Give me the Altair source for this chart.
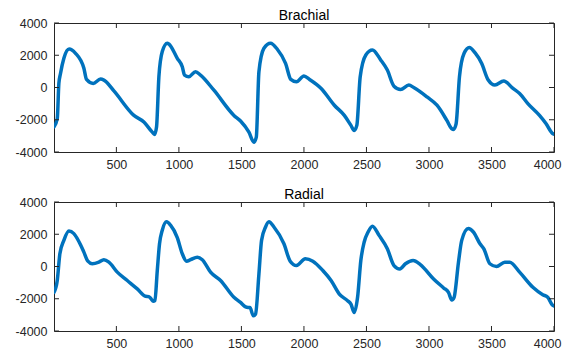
import altair as alt
import pandas as pd

brach_x = [1, 27, 40, 53, 80, 122, 173, 240, 261, 315, 373, 400, 480, 640, 720, 787, 805, 821,
           840, 867, 907, 920, 987, 1027, 1045, 1080, 1133, 1173, 1280, 1440, 1493, 1560, 1600,
           1619, 1640, 1680, 1733, 1787, 1853, 1895, 1940, 2000, 2045, 2138, 2243, 2323, 2376,
           2402, 2423, 2450, 2495, 2548, 2614, 2667, 2720, 2773, 2839, 2878, 2984, 3064, 3143,
           3183, 3196, 3217, 3244, 3281, 3323, 3368, 3421, 3474, 3527, 3598, 3672, 3725, 3791,
           3884, 3937, 3985, 4000]
brach_y = [-2450, -1940, 250, 870, 1810, 2380, 2120, 1190, 500, 250, 520, 460, -210, -1730, -2140,
           -2770, -2910, -2450, 670, 2230, 2750, 2700, 1810, 1290, 770, 670, 980, 770, -170, -1730,
           -2080, -2770, -3390, -3080, 980, 2430, 2750, 2370, 1500, 500, 350, 710, 500, -60, -1100,
           -1730, -2350, -2660, -2350, 670, 2020, 2330, 1710, 1080, 80, -120, 150, 0, -580, -1100,
           -2040, -2560, -2600, -2250, 670, 2120, 2480, 2160, 1500, 460, 150, 400, -60, -370, -1000,
           -1730, -2250, -2830, -2900]

rad_x = [1, 27, 48, 80, 120, 160, 213, 240, 272, 307, 360, 400, 440, 507, 587, 667, 733, 760,
         779, 795, 808, 827, 845, 867, 901, 933, 987, 1027, 1061, 1093, 1147, 1187, 1253, 1333,
         1440, 1493, 1533, 1552, 1568, 1595, 1613, 1640, 1661, 1693, 1720, 1760, 1840, 1890,
         1940, 2011, 2071, 2151, 2217, 2283, 2349, 2376, 2402, 2429, 2455, 2482, 2513, 2548,
         2601, 2667, 2720, 2767, 2812, 2873, 2931, 3037, 3117, 3156, 3183, 3201, 3236, 3262,
         3315, 3355, 3408, 3439, 3487, 3540, 3606, 3646, 3725, 3831, 3910, 3950, 3985, 4000]
rad_y = [-1600, -870, 790, 1620, 2200, 2040, 1350, 890, 330, 170, 270, 420, 270, -350, -870,
         -1390, -1850, -1870, -2020, -2160, -2120, -250, 1410, 2250, 2770, 2560, 1790, 790, 330,
         420, 580, 420, -350, -870, -1910, -2230, -2500, -2540, -2540, -3060, -2950, -460, 1620,
         2450, 2770, 2450, 1410, 330, 60, 480, 330, -250, -870, -1710, -2120, -2330, -2850, -1910,
         370, 1520, 2140, 2500, 1930, 1100, 60, -150, 170, 370, 120, -770, -1330, -1600, -2080,
         -1910, 270, 1620, 2350, 2140, 1410, 1100, 170, 0, 270, 270, -350, -1290, -1750, -1910,
         -2370, -2450]

x_ticks = [500, 1000, 1500, 2000, 2500, 3000, 3500, 4000]
y_ticks = [-4000, -2000, 0, 2000, 4000]

W, H = 500, 129
TICK = 5
AX = "#262626"
BLUE = "#0072BD"
FONT = "Liberation Sans"


def panel(xs, ys, title):
    df = pd.DataFrame({"x": xs, "y": ys})
    xsc = alt.Scale(domain=[1, 4000], nice=False, zero=False)
    ysc = alt.Scale(domain=[-4000, 4000], nice=False)
    xax = alt.Axis(values=x_ticks, title=None, ticks=False, tickSize=0, domain=False, grid=False,
                   labelPadding=6, labelFont=FONT, labelFontSize=12.5, labelColor=AX,
                   format="d", labelFlush=True, labelFlushOffset=7)
    yax = alt.Axis(values=y_ticks, title=None, ticks=False, tickSize=0, domain=False, grid=False,
                   labelPadding=7, labelFont=FONT, labelFontSize=12.5, labelColor=AX,
                   labelExpr="replace(format(datum.value, 'd'), '\u2212', '-')", labelFlush=False)
    line = alt.Chart(df).mark_line(
        color=BLUE, strokeWidth=3.5, interpolate="monotone", clip=True,
        strokeJoin="round", strokeCap="round"
    ).encode(
        x=alt.X("x:Q", scale=xsc, axis=xax),
        y=alt.Y("y:Q", scale=ysc, axis=yax),
    )
    xt = pd.DataFrame({"x": x_ticks})
    yt = pd.DataFrame({"y": y_ticks})
    top = alt.Chart(xt).mark_rule(color=AX, strokeWidth=1).encode(
        x=alt.X("x:Q", scale=xsc, axis=xax), y=alt.value(0), y2=alt.value(TICK))
    bot = alt.Chart(xt).mark_rule(color=AX, strokeWidth=1).encode(
        x=alt.X("x:Q", scale=xsc, axis=xax), y=alt.value(H - TICK), y2=alt.value(H))
    left = alt.Chart(yt).mark_rule(color=AX, strokeWidth=1).encode(
        y=alt.Y("y:Q", scale=ysc, axis=yax), x=alt.value(0), x2=alt.value(TICK))
    right = alt.Chart(yt).mark_rule(color=AX, strokeWidth=1).encode(
        y=alt.Y("y:Q", scale=ysc, axis=yax), x=alt.value(W - TICK), x2=alt.value(W))
    return alt.layer(line, top, bot, left, right).properties(
        width=W, height=H,
        title=alt.TitleParams(title, fontSize=14, font=FONT, fontWeight="normal",
                              color="black", offset=-5.7, anchor="middle", frame="group"))


chart = alt.vconcat(
    panel(brach_x, brach_y, "Brachial"),
    panel(rad_x, rad_y, "Radial"),
    spacing=16,
).properties(
    padding={"left": 6, "top": 0, "right": 0, "bottom": 0}
).configure_view(stroke=AX, strokeWidth=1)

chart.save("out.html", embed_options={"renderer": "svg", "actions": False})
